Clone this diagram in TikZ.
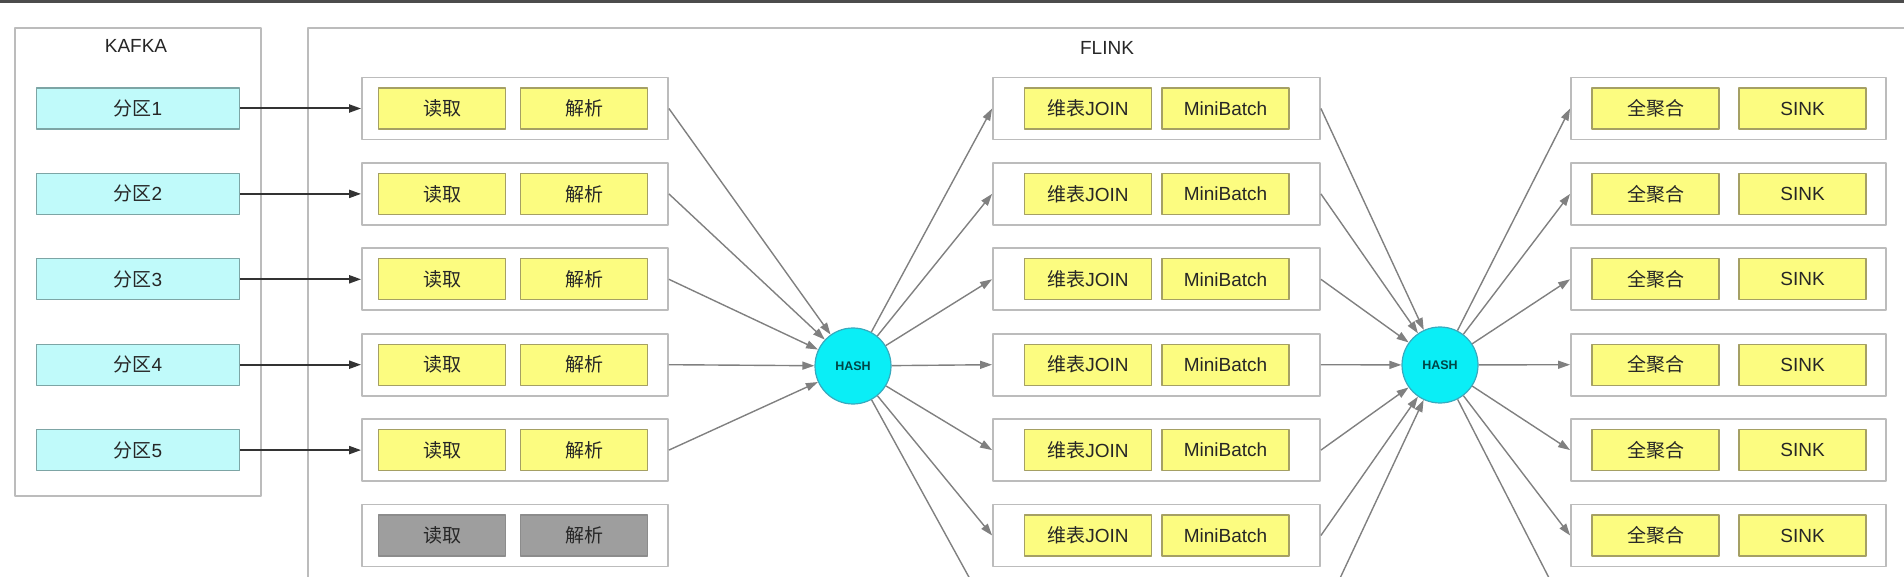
\documentclass[tikz,border=0pt]{standalone}
\usepackage{fontspec}
\setmainfont{Liberation Sans}
\newfontfamily\cjk{Noto Sans CJK SC}
\usetikzlibrary{arrows.meta}
\definecolor{partcyan}{RGB}{192,250,250}
\definecolor{partedge}{RGB}{125,165,165}
\definecolor{opyellow}{RGB}{252,252,128}
\definecolor{opedge}{RGB}{165,160,100}
\definecolor{framegray}{RGB}{188,188,188}
\definecolor{hashcyan}{RGB}{10,238,246}
\definecolor{hashedge}{RGB}{55,170,190}
\definecolor{flowgray}{RGB}{128,128,128}

\begin{document}
\begin{tikzpicture}[x=1pt, y=-1pt, line join=round, >={Triangle[length=12pt,width=8pt]},
	font=\fontsize{19}{21}\selectfont, text=black!85,
	frame/.style={draw=framegray, line width=1.8pt},
	partbox/.style={draw=partedge, fill=partcyan, line width=1.2pt, minimum width=203pt, minimum height=41pt, inner sep=0pt},
	opbox/.style={draw=opedge, fill=opyellow, line width=1.2pt, minimum width=127pt, minimum height=41pt, inner sep=0pt},
	idlebox/.style={opbox, draw=black!45, fill=black!38},
	task/.style={draw=framegray, fill=white, line width=1.8pt, minimum height=62pt, inner sep=0pt},
	hash/.style={circle, draw=hashedge, fill=hashcyan, line width=1.2pt, minimum size=76pt, inner sep=0pt, font=\fontsize{12.5}{14}\selectfont\bfseries, text=teal!55!black},
	flow/.style={->, draw=flowgray, line width=1.4pt},
	feed/.style={->, draw=black!80, line width=2pt}]
	\useasboundingbox (0,0) rectangle (1904,577);
	\clip (0,0) rectangle (1904,577);
	\fill[black!70] (0,0) rectangle (1904,3);
	%\draw[color=gray!50,dashed] (0,0) grid[step=100] (1904,577);
	\def\rowy{108.5} \def\rowd{85.4}
	% kafka / flink frames
	\draw[frame] (15,28) rectangle (261,496);
	\node (kafka) at (136,46) {KAFKA};
	\draw[frame] (308,600) -- (308,28) -- (1930,28);
	\node (flink) at (1107,48) {FLINK};
	\foreach \i in {1,...,5}{
		\pgfmathsetmacro\y{\rowy+\rowd*(\i-1)}
		\node[partbox] (part\i) at (138,\y) {{\cjk 分区}\i};
		\node[task, minimum width=306pt] (read\i) at (515,\y) {};
		\node[opbox] at (442,\y) {\cjk 读取};
		\node[opbox] at (584,\y) {\cjk 解析};
	}
	\pgfmathsetmacro\y{\rowy+\rowd*5}
	\node[task, minimum width=306pt] (read6) at (515,\y) {};
	\node[idlebox] at (442,\y) {\cjk 读取};
	\node[idlebox] at (584,\y) {\cjk 解析};
	\foreach \i in {1,...,6}{
		\pgfmathsetmacro\y{\rowy+\rowd*(\i-1)}
		\node[task, minimum width=327pt] (join\i) at (1156.5,\y) {};
		\node[opbox] at (1088,\y) {{\cjk 维表}JOIN};
		\node[opbox] at (1225.5,\y) {MiniBatch};
		\node[task, minimum width=315pt] (agg\i) at (1728.5,\y) {};
		\node[opbox] at (1655.5,\y) {\cjk 全聚合};
		\node[opbox] at (1802.5,\y) {SINK};
	}
	\pgfmathsetmacro\y{\rowy+\rowd*6}
	\coordinate (join7w) at (993,\y);
	\coordinate (join7e) at (1320,\y);
	\coordinate (agg7w) at (1571,\y);
	\node[hash] (hash1) at (853,366) {HASH};
	\node[hash] (hash2) at (1440,365) {HASH};
	% edges
	\foreach \i in {1,...,5} \draw[feed] (part\i) -- (read\i);
	\foreach \i in {1,...,5} \draw[flow] (read\i.east) -- (hash1);
	\foreach \i in {1,...,6} \draw[flow] (hash1) -- (join\i.west);
	\draw[flow] (hash1) -- (join7w);
	\foreach \i in {1,...,6} \draw[flow] (join\i.east) -- (hash2);
	\draw[flow] (join7e) -- (hash2);
	\foreach \i in {1,...,6} \draw[flow] (hash2) -- (agg\i.west);
	\draw[flow] (hash2) -- (agg7w);
\end{tikzpicture}
\end{document}
